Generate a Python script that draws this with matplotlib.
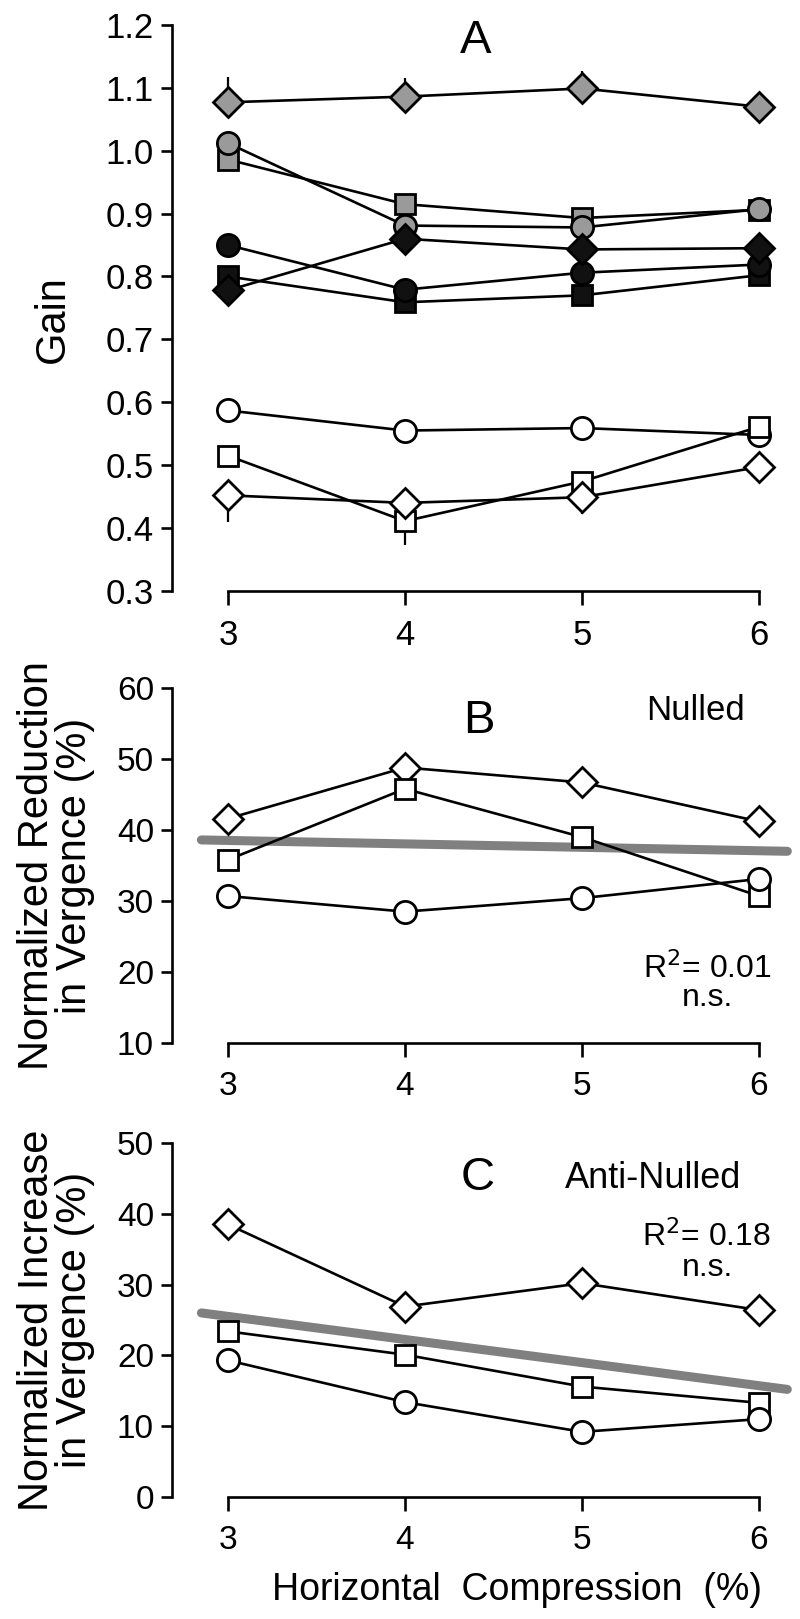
import numpy as np
import matplotlib.pyplot as plt

plt.rcParams['font.family'] = ['Liberation Sans', 'DejaVu Sans']

x = [3, 4, 5, 6]

# Panel A: gain for each subject / condition
gain_gray_diamond = [1.077, 1.086, 1.099, 1.070]
gain_gray_circle = [1.012, 0.881, 0.878, 0.907]
gain_gray_square = [0.986, 0.915, 0.893, 0.906]
gain_black_circle = [0.850, 0.779, 0.806, 0.819]
gain_black_diamond = [0.778, 0.860, 0.843, 0.845]
gain_black_square = [0.800, 0.759, 0.770, 0.802]
gain_open_circle = [0.587, 0.555, 0.559, 0.548]
gain_open_square = [0.515, 0.411, 0.474, 0.561]
gain_open_diamond = [0.452, 0.440, 0.449, 0.497]

# one-sided error bars
err_gray_diamond_up = [0.041, 0.029, 0.027, 0.0]
err_open_diamond_down = [0.043, 0.0, 0.027, 0.0]
err_open_square_down = [0.0, 0.038, 0.0, 0.0]

# Panel B: nulled
red_diamond = [41.6, 48.8, 46.7, 41.2]
red_square = [35.8, 45.8, 39.0, 30.7]
red_circle = [30.7, 28.5, 30.4, 33.1]
red_fit_x = [2.85, 6.16]
red_fit_y = [38.6, 37.0]

# Panel C: anti-nulled
inc_diamond = [38.5, 26.9, 30.2, 26.4]
inc_square = [23.4, 20.1, 15.6, 13.3]
inc_circle = [19.3, 13.4, 9.2, 11.0]
inc_fit_x = [2.85, 6.16]
inc_fit_y = [26.0, 15.2]

GRAY = '#9a9a9a'
BLACK = '#111111'
LW = 1.9

fig = plt.figure(figsize=(8, 16.19), dpi=100)

def make_axes(rect, ylim, yticks, fs):
    ax = fig.add_axes(rect)
    ax.set_xlim(2.684, 6.2)
    ax.set_ylim(*ylim)
    for s in ['top', 'right']:
        ax.spines[s].set_visible(False)
    ax.spines['left'].set_bounds(ylim[0], ylim[1])
    ax.spines['bottom'].set_bounds(3, 6)
    for s in ['left', 'bottom']:
        ax.spines[s].set_linewidth(LW)
    ax.set_xticks(x)
    ax.set_yticks(yticks)
    ax.tick_params(axis='y', length=8, width=LW, pad=5, labelsize=fs)
    ax.tick_params(axis='x', length=10, width=LW, pad=10, labelsize=fs)
    ax.patch.set_visible(False)
    return ax

def series(ax, y, marker, face, ms, yerr=None):
    if yerr is not None:
        ax.errorbar(x, y, yerr=yerr, fmt='none', ecolor='black', elinewidth=1.6, capsize=0, zorder=2)
    ax.plot(x, y, color='black', lw=LW, marker=marker, ms=ms, mfc=face, mec='black', mew=2.0, zorder=3, clip_on=False)

# ---- A
axA = make_axes([0.215, 0.6350, 0.778, 0.3496], (0.3, 1.2), np.arange(0.3, 1.21, 0.1), 25)
axA.set_yticklabels(['%.1f' % v for v in np.arange(0.3, 1.21, 0.1)])
zero = [0, 0, 0, 0]
series(axA, gain_gray_diamond, 'D', GRAY, 15.5, yerr=[zero, err_gray_diamond_up])
series(axA, gain_gray_square, 's', GRAY, 15)
series(axA, gain_gray_circle, 'o', GRAY, 16)
series(axA, gain_black_square, 's', BLACK, 15)
series(axA, gain_black_circle, 'o', BLACK, 16)
series(axA, gain_black_diamond, 'D', BLACK, 15.5)
series(axA, gain_open_circle, 'o', 'white', 16)
series(axA, gain_open_square, 's', 'white', 15, yerr=[err_open_square_down, zero])
series(axA, gain_open_diamond, 'D', 'white', 15.5, yerr=[err_open_diamond_down, zero])
axA.text(4.40, 1.174, 'A', fontsize=34, ha='center', va='center')
axA.set_ylabel('Gain', fontsize=30)
axA.yaxis.set_label_coords(-0.16, 0.48)

# ---- B
axB = make_axes([0.215, 0.35578, 0.778, 0.21927], (10, 60), [10, 20, 30, 40, 50, 60], 24)
axB.plot(red_fit_x, red_fit_y, color='#808080', lw=6.5, solid_capstyle='round', zorder=1, clip_on=False)
series(axB, red_diamond, 'D', 'white', 15.5)
series(axB, red_square, 's', 'white', 15)
series(axB, red_circle, 'o', 'white', 16)
axB.text(4.42, 55.3, 'B', fontsize=34, ha='center', va='center')
axB.text(5.64, 56.9, 'Nulled', fontsize=25, ha='center', va='center')
axB.text(6.07, 20.5, r'R$^2$= 0.01', fontsize=23, ha='right', va='center')
axB.text(5.71, 16.3, 'n.s.', fontsize=23, ha='center', va='center')
axB.set_ylabel('Normalized Reduction\nin Vergence (%)', fontsize=30, linespacing=0.92)
axB.yaxis.set_label_coords(-0.124, 0.5)

# ---- C
axC = make_axes([0.215, 0.07536, 0.778, 0.21865], (0, 50), [0, 10, 20, 30, 40, 50], 24)
axC.plot(inc_fit_x, inc_fit_y, color='#808080', lw=6.5, solid_capstyle='round', zorder=1, clip_on=False)
series(axC, inc_diamond, 'D', 'white', 15.5)
series(axC, inc_square, 's', 'white', 15)
series(axC, inc_circle, 'o', 'white', 16)
axC.text(4.41, 45.0, 'C', fontsize=34, ha='center', va='center')
axC.text(5.40, 45.0, 'Anti-Nulled', fontsize=26, ha='center', va='center')
axC.text(6.07, 36.8, r'R$^2$= 0.18', fontsize=23, ha='right', va='center')
axC.text(5.71, 32.3, 'n.s.', fontsize=23, ha='center', va='center')
axC.set_ylabel('Normalized Increase\nin Vergence (%)', fontsize=30, linespacing=0.92)
axC.yaxis.set_label_coords(-0.124, 0.5)

fig.text(762 / 800, 1 - 1590 / 1619, 'Horizontal  Compression  (%)', fontsize=27, ha='right', va='center')

fig.savefig('out.png', dpi=100)
